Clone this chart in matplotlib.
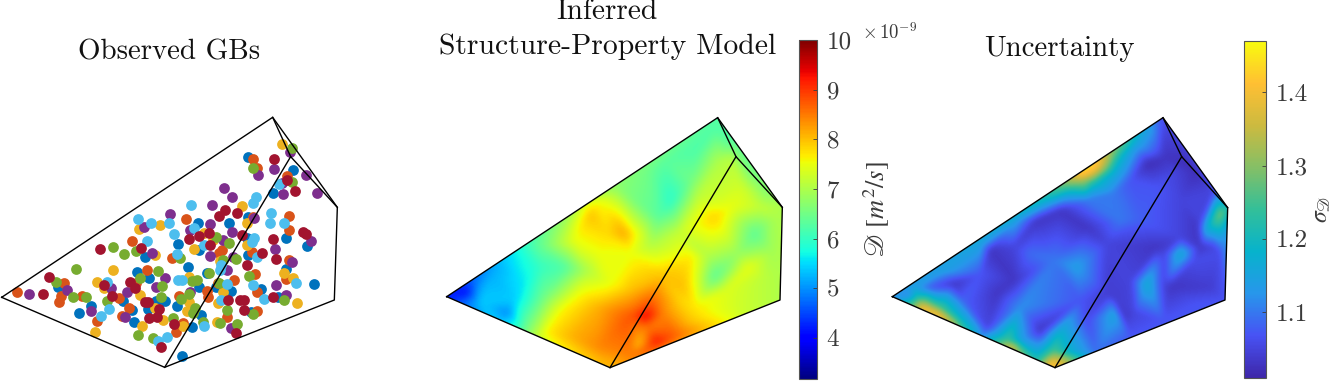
import matplotlib
matplotlib.use("Agg")
import matplotlib.pyplot as plt
import matplotlib.tri as mtri
from matplotlib.colors import LinearSegmentedColormap, Normalize
from matplotlib.patches import Polygon
from matplotlib.cm import ScalarMappable
import numpy as np

W, H = 1333, 381

# panel 1 points, per colour (panel units = 1/3 pixel)
blue = [(744,170),(878,210),(820,278),(743,350),(687,369),(593,370),(534,431),(858,413),(922,438),(742,415),(435,471),(563,500),(411,516),(447,533),(597,560),(648,560),(693,572),(783,566),(942,552),(858,507),(833,590),(370,603),(467,602),(496,602),(274,618),(238,639),(397,631),(444,628),(531,617),(401,667),(602,645),(576,682),(752,635),(545,768),(745,465),(620,518),(173,562),(598,450)]
orange = [(760,176),(772,203),(862,228),(760,350),(866,348),(557,358),(867,390),(396,424),(517,474),(657,460),(665,450),(756,455),(868,480),(442,509),(702,540),(766,522),(858,537),(407,549),(770,577),(192,549),(184,587),(178,606),(246,587),(50,575),(357,593),(388,623),(292,662),(366,648),(536,587),(622,572),(680,650),(770,632),(548,668),(528,697),(625,590),(655,550)]
yellow = [(845,132),(727,318),(740,370),(417,388),(481,376),(640,420),(581,446),(465,465),(338,511),(292,545),(312,565),(421,584),(566,530),(740,435),(852,519),(878,533),(892,608),(567,606),(466,624),(562,632),(488,660),(427,677),(549,678),(650,665),(286,696),(668,575),(653,609),(660,482),(613,400)]
purple = [(870,157),(823,208),(773,224),(919,226),(848,282),(951,278),(671,263),(695,290),(635,316),(509,341),(433,382),(629,373),(570,390),(695,397),(762,355),(668,420),(631,468),(455,460),(824,448),(932,424),(876,487),(698,472),(682,510),(495,534),(827,556),(467,561),(332,564),(201,570),(86,583),(382,576),(570,575),(858,586),(272,632),(374,650),(694,683),(845,250)]
green = [(875,143),(760,204),(877,247),(338,441),(371,463),(407,453),(228,508),(168,545),(473,514),(420,535),(487,557),(540,475),(648,412),(687,428),(670,480),(708,477),(628,518),(748,527),(575,543),(590,540),(658,548),(220,592),(258,592),(322,604),(542,596),(568,582),(852,600),(584,625),(680,630),(760,642),(578,640),(519,653),(608,665),(660,670),(711,673),(415,704),(460,714),(484,592)]
cyan = [(838,252),(767,290),(760,310),(572,315),(814,338),(809,369),(853,368),(415,358),(453,368),(506,370),(583,383),(521,402),(440,423),(612,436),(763,415),(755,425),(530,463),(771,472),(664,495),(533,540),(545,540),(889,550),(758,555),(680,552),(662,600),(792,598),(328,627),(302,648),(501,711),(612,677),(475,723),(320,545),(660,510)]
maroon = [(822,177),(886,274),(676,330),(656,349),(711,338),(726,405),(597,408),(627,400),(567,417),(631,435),(820,418),(910,395),(917,401),(301,447),(423,445),(786,458),(828,478),(741,494),(147,530),(130,582),(389,547),(405,565),(312,555),(335,587),(685,599),(720,600),(732,600),(818,590),(435,606),(445,607),(731,630),(478,628),(470,650),(448,654),(521,673),(709,699),(482,740),(860,240)]

# polyhedron corners of each panel: left, top, upper right, lower right, bottom, inner
corners1 = [(5,592),(818,52),(1012,322),(1003,600),(494,802),(872,170)]
corners2 = [(50,890),(863,353),(1057,622),(1050,900),(540,1103),(918,470)]
corners3 = [(37,830),(849,293),(1043,563),(1035,840),(525,1043),(905,410)]

# diffusivity read at points of panel 2: (x, y, value)
diff_pts = [
    (50,890,4.2),(863,353,6.3),(1057,622,7.0),(1050,900,7.0),(540,1103,8.0),
    (100,880,3.9),(130,835,4.7),(150,905,5.4),(230,940,4.9),(280,850,5.6),(180,820,5.2),(240,740,5.6),
    (200,970,5.5),(300,1010,6.9),(250,900,5.4),(330,800,6.0),(400,800,6.2),(340,890,6.5),
    (330,740,6.4),(400,690,7.0),(480,640,8.0),(510,600,7.5),(560,560,6.7),(450,590,7.0),
    (580,700,8.2),(530,700,7.8),(620,700,7.5),(430,720,7.5),(500,760,7.5),(600,760,7.5),(470,810,7.0),
    (720,600,5.9),(680,650,6.3),(800,450,6.2),(850,380,6.2),(650,500,6.5),(700,480,6.3),(780,540,6.5),
    (660,730,7.0),(740,700,7.2),(800,600,7.2),(860,480,7.0),(900,470,7.1),
    (450,870,7.5),(500,920,8.1),(600,950,8.8),(640,950,9.5),(660,900,8.7),(600,870,8.0),(540,850,7.5),(690,830,8.0),
    (600,1060,8.5),(560,1090,8.1),(350,1000,7.7),(420,1010,8.1),(500,1040,8.4),(390,930,7.6),(440,1060,7.8),
    (620,1040,7.9),(680,1030,9.4),(720,1010,8.8),(650,980,8.5),(700,940,8.4),(750,900,7.8),(780,970,8.0),
    (850,830,6.3),(800,830,7.3),(830,770,7.0),(880,870,7.4),(760,860,8.0),(790,920,7.7),(850,930,7.5),(950,940,7.2),
    (950,800,7.5),(1000,830,7.1),(920,760,6.8),(970,700,6.3),(1030,650,7.0),(1020,750,6.9),(900,620,7.5),(850,650,7.9),(780,770,7.7),
    (930,560,7.3),(980,620,7.2),(950,510,6.6),(1010,570,6.6),(910,420,6.2),
    (1040,800,7.0),(300,710,6.1),(200,800,5.2),
]

# uncertainty read at points of panel 3: (x, y, value)
unc_pts = [
    (37,830,1.12),(849,293,1.06),(1043,563,1.2),(1035,840,1.07),(525,1043,1.44),
    (640,431,1.46),(600,458,1.46),(680,405,1.36),(560,484,1.33),(640,460,1.36),(610,475,1.34),
    (560,510,1.2),(640,490,1.2),(700,450,1.18),(720,400,1.2),(760,370,1.16),
    (480,540,1.2),(400,600,1.15),(300,670,1.15),(180,750,1.15),(100,800,1.15),(810,320,1.14),
    (130,870,1.46),(180,892,1.44),(230,914,1.33),(270,931,1.2),(130,845,1.3),(180,860,1.25),(230,890,1.2),
    (250,930,1.25),(110,830,1.22),(80,830,1.1),(300,955,1.13),
    (390,985,1.42),(420,997,1.32),(340,962,1.22),(380,960,1.25),(420,960,1.15),(510,1030,1.42),(470,1020,1.22),(520,990,1.25),(560,1010,1.3),(530,950,1.2),(600,970,1.13),
    (220,790,1.03),(330,690,1.03),(400,780,1.03),(350,820,1.03),(470,600,1.03),(540,570,1.03),(620,620,1.03),(680,670,1.05),(800,430,1.02),(850,410,1.03),(480,930,1.03),(320,920,1.05),
    (590,740,1.14),(520,720,1.1),(450,700,1.09),(620,540,1.1),(700,520,1.1),(750,480,1.07),(720,600,1.1),(830,500,1.07),(420,860,1.12),(300,760,1.07),(600,840,1.07),(620,900,1.06),
    (250,840,1.08),(150,800,1.07),(400,680,1.05),(780,600,1.08),
    (700,830,1.04),(730,880,1.03),(570,1000,1.18),(700,880,1.15),(800,790,1.17),(900,700,1.17),(980,625,1.17),(1020,580,1.3),(1000,590,1.22),
    (830,680,1.03),(950,620,1.03),(960,680,1.03),(870,800,1.03),(990,800,1.04),(900,540,1.05),(880,450,1.05),(1020,700,1.06),(750,950,1.07),(850,900,1.07),(950,850,1.07),(650,1000,1.09),
    (750,780,1.05),(680,820,1.04),(760,880,1.05),(850,790,1.05),(850,700,1.05),(940,720,1.06),(900,650,1.05),(960,600,1.05),(1000,680,1.05),
    (950,450,1.02),(1000,510,1.05),
]

diff_ticks = [4, 5, 6, 7, 8, 9, 10]
diff_range = (3.17, 10.0)
unc_ticks = [1.1, 1.2, 1.3, 1.4]
unc_range = (1.01, 1.47)

plt.rcParams["font.family"] = ["cmr10", "DejaVu Serif"]
plt.rcParams["mathtext.fontset"] = "cm"
plt.rcParams["axes.unicode_minus"] = False
gray = "#3a3a3a"

parula = LinearSegmentedColormap.from_list("parula", [
    (0.2422, 0.1504, 0.6603), (0.2810, 0.3228, 0.9579), (0.1540, 0.5902, 0.9218),
    (0.0265, 0.7, 0.8), (0.2, 0.75, 0.6), (0.52, 0.75, 0.4), (0.8, 0.73, 0.25),
    (1.0, 0.75, 0.2), (0.976, 0.984, 0.055)])


def px_axes(fig, x0, y0, w, h):
    return fig.add_axes([x0 / W, 1 - (y0 + h) / H, w / W, h / H])


def panel_axes(fig, x0, y0, w, h):
    ax = px_axes(fig, x0, y0, w, h)
    ax.set_xlim(0, w * 3)
    ax.set_ylim(h * 3, 0)
    ax.axis("off")
    return ax


def draw_edges(ax, c):
    left, top, ur, lr, bot, inner = c
    outline = [left, top, ur, lr, bot, left]
    ax.plot(*zip(*outline), color="k", lw=1.0, zorder=20)
    ax.plot(*zip(top, inner, ur), color="k", lw=1.0, zorder=20)
    ax.plot(*zip(inner, bot), color="k", lw=1.0, zorder=20)


def smooth(grid, sigma):
    # gaussian blur that ignores the cells outside the triangulation
    r = int(3 * sigma)
    k = np.exp(-0.5 * (np.arange(-r, r + 1) / sigma) ** 2)
    mask = (~np.ma.getmaskarray(grid)).astype(float)
    vals = np.ma.filled(grid, 0.0) * mask
    for axis in (0, 1):
        vals = np.apply_along_axis(np.convolve, axis, vals, k, mode="same")
        mask = np.apply_along_axis(np.convolve, axis, mask, k, mode="same")
    return vals / np.maximum(mask, 1e-9)


def draw_field(ax, pts, c, cmap, vrange, sigma):
    pts = np.array(pts, dtype=float)
    tri = mtri.Triangulation(pts[:, 0], pts[:, 1])
    x1, y0 = ax.get_xlim()[1], ax.get_ylim()[0]
    gx, gy = np.meshgrid(np.arange(0, x1, 3.0), np.arange(0, y0, 3.0))
    grid = mtri.LinearTriInterpolator(tri, pts[:, 2])(gx, gy)
    im = ax.imshow(smooth(grid, sigma), extent=(0, x1, y0, 0), origin="upper", aspect="auto",
                   cmap=cmap, vmin=vrange[0], vmax=vrange[1], interpolation="bilinear")
    im.set_clip_path(Polygon(c[:5], transform=ax.transData))


def draw_colorbar(fig, cmap, vrange, ticks, box, label, label_x, label_size):
    cax = px_axes(fig, *box)
    cb = fig.colorbar(ScalarMappable(Normalize(*vrange), cmap), cax=cax)
    cb.set_ticks(ticks)
    cb.set_ticklabels([str(t) for t in ticks])
    cax.tick_params(direction="in", length=3, width=0.6, color=gray, labelcolor=gray, labelsize=18, pad=7)
    cb.outline.set_edgecolor("#555555")
    cb.outline.set_linewidth(0.8)
    cax.set_ylabel(label, color=gray, fontsize=label_size, va="center", math_fontfamily="stix")
    cax.yaxis.set_label_coords(label_x, 0.5)


fig = plt.figure(figsize=(W / 100, H / 100), dpi=100)

# left panel
ax1 = panel_axes(fig, 0, 100, 350, 281)
for pts, col in [(blue, "#0072BD"), (orange, "#D95319"), (yellow, "#EDB120"), (purple, "#7E2F8E"),
                 (green, "#77AC30"), (cyan, "#4DBEEE"), (maroon, "#A2142F")]:
    xs, ys = zip(*pts)
    ax1.scatter(xs, ys, s=60, color=col, linewidths=0, zorder=5)
draw_edges(ax1, corners1)

# middle panel
ax2 = panel_axes(fig, 430, 0, 360, 381)
draw_field(ax2, diff_pts, corners2, "jet", diff_range, 4)
draw_edges(ax2, corners2)
draw_colorbar(fig, "jet", diff_range, diff_ticks, (799, 40, 18, 339),
              r"$\mathscr{D}\ [m^2/s]$", 4.33, 19)
fig.text(862 / W, 1 - 33 / H, r"$\times\,10^{-9}$", color=gray, fontsize=13.5, va="center", ha="left")

# right panel
ax3 = panel_axes(fig, 880, 20, 360, 361)
draw_field(ax3, unc_pts, corners3, parula, unc_range, 3)
draw_edges(ax3, corners3)
draw_colorbar(fig, parula, unc_range, unc_ticks, (1244, 41, 22, 337),
              r"$\sigma_{\mathscr{D}}$", 3.55, 17)

# titles
for txt, x, y, size in [("Observed GBs", 169, 52, 20.8), ("Inferred", 607, 12, 21.2),
                        ("Structure-Property Model", 608, 47, 21.4), ("Uncertainty", 1059, 49, 20.8)]:
    fig.text(x / W, 1 - y / H, txt, fontsize=size, color="#111111", ha="center", va="center")

fig.savefig("out.png", dpi=100)
